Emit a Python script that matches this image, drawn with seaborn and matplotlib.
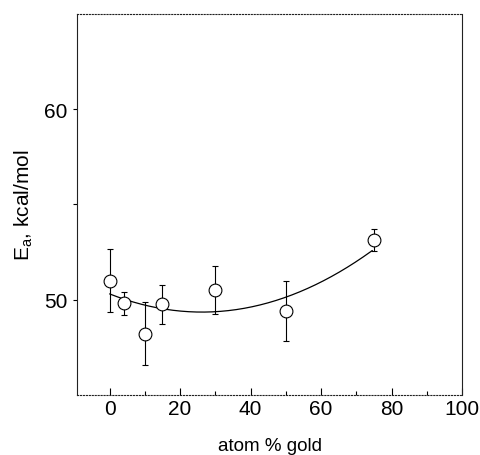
import numpy as np
import pandas as pd
import matplotlib
matplotlib.use("Agg")
import matplotlib.pyplot as plt
import seaborn as sns

# values
gold_pct = [0, 4, 10, 15, 30, 50, 75]
ea_kcal = [51.0, 49.8, 48.2, 49.75, 50.5, 49.4, 53.15]
ea_err = [1.65, 0.6, 1.65, 1.03, 1.27, 1.58, 0.58]

# quadratic fit drawn through the points (c0 + c1*x + c2*x^2)
fit_coeffs = [50.3, -0.0728, 0.001388]
fit_range = [0, 74.5]

x_ticks = [0, 20, 40, 60, 80, 100]
y_ticks = [50, 60]

sns.set_style("ticks")
plt.rcParams["font.family"] = ["Liberation Sans", "DejaVu Sans"]
plt.rcParams["mathtext.fontset"] = "custom"
plt.rcParams["mathtext.rm"] = "Liberation Sans"
plt.rcParams["mathtext.it"] = "Liberation Sans"
for key in ["text.color", "axes.labelcolor", "xtick.color", "ytick.color"]:
    plt.rcParams[key] = "black"

df = pd.DataFrame({"gold": gold_pct, "ea": ea_kcal, "err": ea_err})

xs = np.linspace(fit_range[0], fit_range[1], 200)
fit_df = pd.DataFrame({"gold": xs, "ea": np.polyval(fit_coeffs[::-1], xs)})

fig = plt.figure(figsize=(4.8, 4.56), dpi=100)
ax = fig.add_axes([0.160, 0.132, 0.803, 0.835])

sns.lineplot(data=fit_df, x="gold", y="ea", color="black", linewidth=0.9, ax=ax)
ax.errorbar(df["gold"], df["ea"], yerr=df["err"], fmt="none", ecolor="black",
            elinewidth=0.8, capsize=2.5, capthick=0.8, zorder=2)
sns.scatterplot(data=df, x="gold", y="ea", s=85, marker="o", facecolor="white",
                edgecolor="black", linewidth=0.8, zorder=3, ax=ax)

ax.set_xlim(-9.3, 100)
ax.set_ylim(45, 65)
ax.set_xticks(x_ticks)
ax.set_xticks([10, 30, 50, 70, 90], minor=True)
ax.set_yticks(y_ticks)
ax.set_yticks([55], minor=True)
ax.tick_params(axis="x", which="major", direction="in", length=5, width=0.8,
               labelsize=15, pad=3)
ax.tick_params(axis="x", which="minor", direction="in", length=3, width=0.8)
ax.tick_params(axis="y", which="major", direction="out", length=3, width=0.8,
               labelsize=15, pad=4)
ax.tick_params(axis="y", which="minor", direction="out", length=3, width=0.8)

for side in ["top", "right", "left", "bottom"]:
    ax.spines[side].set_visible(True)
    ax.spines[side].set_linewidth(0.8)
    ax.spines[side].set_color("#222222")
ax.spines["top"].set_linestyle(":")
ax.spines["bottom"].set_linestyle(":")

ax.set_xlabel("atom % gold", fontsize=13.5, labelpad=14)
ax.set_ylabel(r"E$_\mathrm{a}$, kcal/mol", fontsize=15, labelpad=6)

fig.savefig("out.png", dpi=100)
